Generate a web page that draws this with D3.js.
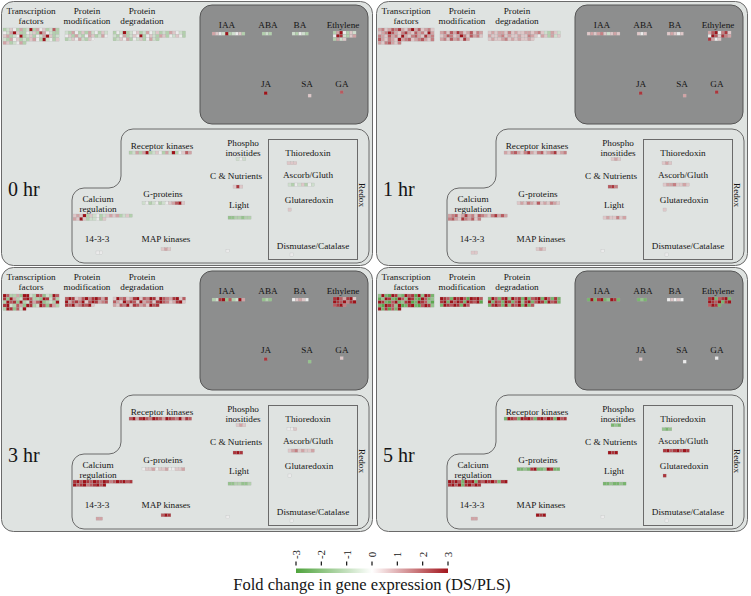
<!DOCTYPE html>
<html><head><meta charset="utf-8">
<script src="https://cdn.jsdelivr.net/npm/d3@7"></script>
<style>
body{margin:0;background:#fff}
svg{display:block}
text{font-family:"Liberation Serif","Times New Roman",serif;fill:#151515}
</style>
</head><body>
<svg id="c" width="751" height="596"></svg>
<script>
// ---------------- data ----------------
const panelLabels = ["0 hr", "1 hr", "3 hr", "5 hr"];
const blockNames = ["Transcription factors","Protein modification","Protein degradation","IAA","ABA","BA","Ethylene","JA","SA","GA",
  "Receptor kinases","Phospho inositides","C & Nutrients","Light","Misc","G-proteins","Calcium regulation","14-3-3","MAP kinases",
  "Thioredoxin","Ascorb/Gluth","Glutaredoxin","Dismutase/Catalase"];
// fold-change codes per gene: a..m = -3 .. +3 in steps of 0.5 (g = 0)
const codeLevels = "abcdefghijklm";
const hr0 = [
  "efhgeiefmeighefke"+"gfimheegfheligfee"+"hiefgmefhegfimhef"+"feighefehigemfgeh"+"ihefgie",
  "feigeheifgehf"+"gheifegihefig"+"efhgifehg",
  "egfmefghefigfhefeihgfe"+"fegiefhgmeghfeihegfhge"+"efhgiegfhegife",
  "ihgfmefghe","efe","fegfe","eimgehf"+"gmlfehi"+"eifh","m","h","k",
  "efieimefhgeifmeghki","fgf","hlh","ddeedee","g","fgefgefghikmh",
  "hihmehfgefhihiefhe"+"ihmheffgeh","gg","hih","hhh","fegfhegf","h","g"
];
const hr1 = [
  "ijhikjlihjmikhijh"+"hijmkihjlihkijhmi"+"jihkijhmihjkihlij"+"kihjihmijkhijkihj"+"ihjkihj",
  "ijhkiljhikhji"+"hikjhimjhkijh"+"ijhkijhli",
  "hihiihjhihhiihijhfeihf"+"ihhijhihhihhjihgiheifh"+"hihhijhihihhih",
  "hihijhfhih","hgh","hihgh","ikmgjlh"+"gmkhlji"+"ligh","l","i","l",
  "ihjkihjlihjkhijlhij","hih","klj","hihhjhi","g","hihjihkhihjih",
  "ijkhilijhkjihjliki"+"jkihljikhj","hh","hih","hih","hiijhhih","h","g"
];
const hr3 = [
  "mkeeidmmfelkdfemk"+"ldmieflmkeedmlfke"+"emkldmeflikmdefem"+"lmfekidmlefmkdlie"+"emldkfm",
  "kmlhikmjlmkil"+"mikljmhkmlijk"+"lkmijlkmh",
  "hmjkhilmhkjmlhmkjilmhk"+"kihmjlkhmijkhlmkjhilmh"+"ihkjmhlkijhmkl",
  "eflmdkefmi","ded","ghihg","lmkilmh"+"mlkmjlm"+"klmj","l","d","h",
  "kmilmkjmlkimlkjmilk","hih","lml","ddeedde","g","ghhighhigghhi",
  "lmkmlkmlkmljkmlmkl"+"mklmjklmkm","ii","kml","ggh","hijhihhi","g","g"
];
const hr5 = [
  "dmcbmldcmklbmdmlc"+"bdmlcbmkdmlcbmkcd"+"mlcbkmcdlmbcmlkdb"+"cbmlkdmbclmcbkmld"+"mclbkcm",
  "mlkcmlmkbmlmk"+"lmcmkmlcmlkmb"+"cmlkmlcmk",
  "cmkclmdmklcmcklmcmkclc"+"mclkcmlckmdlmckmlcmklc"+"clmkcmdlkmcmck",
  "cmclmcdmlc","cdc","ghghg","lmcklmc"+"mlkmclm"+"kmlc","h","g","g",
  "cmlkcmlmkclmkmlcmkl","cdc","mlm","ccdccdc","g","ccdclmccdmlcc",
  "mlmkcmlmclkmlmkclm"+"lmkmclmkml","ii","mlm","dcd","lmklmkml","l","g"
];
const panelValues = [hr0, hr1, hr3, hr5];
const legendTicks = [-3, -2, -1, 0, 1, 2, 3];
const legendTitle = "Fold change in gene expression (DS/PLS)";

// ---------------- layout ----------------
const W = 751, H = 596;
const panelOffsets = [[0,0],[375,0],[0,266],[375,266]];
const cell = 3.3;
const blockLayout = [
  {x:3,y:28,cols:17},{x:65,y:31,cols:13},{x:113,y:31,cols:22},
  {x:212,y:32,cols:10},{x:262,y:32,cols:3},{x:292,y:32,cols:5},{x:333,y:31,cols:7},
  {x:264,y:91.5,cols:1},{x:308,y:94,cols:1},{x:340,y:90.5,cols:1},
  {x:129,y:151,cols:19},{x:236,y:157.5,cols:3},{x:233,y:185,cols:3},{x:228,y:216,cols:7},
  {x:226,y:249.5,cols:1},{x:142,y:201.5,cols:13},{x:73,y:214,cols:18},{x:96,y:251,cols:2},
  {x:161,y:247.5,cols:3},{x:287,y:161.5,cols:3},{x:288,y:183,cols:8},{x:288,y:208,cols:1},{x:290,y:253,cols:1}
];
const textLayout = [
  ["Transcription",31,13.5],["factors",31,24],
  ["Protein",87,13.5],["modification",87,24],
  ["Protein",142,13.5],["degradation",142,24],
  ["IAA",227,28],["ABA",268,28],["BA",300,28],["Ethylene",343,28],
  ["JA",266,87],["SA",307,87],["GA",342,87],
  ["Receptor kinases",162,148.5],["Phospho",243,145.5],["inositides",243,156],
  ["C & Nutrients",236,179],["Light",239,207.5],["G-proteins",163,197],
  ["Calcium",98,201.5],["regulation",98,211.5],["14-3-3",97,242],["MAP kinases",166,242],
  ["Thioredoxin",308,156],["Ascorb/Gluth",308,178],["Glutaredoxin",309,203],["Dismutase/Catalase",313,249]
];

const color = d3.scaleLinear().domain([-3,0,3]).range(["#3f9a2e","#ebebeb","#9e1219"]).interpolate(d3.interpolateRgb).clamp(true);
const decode = s => Array.from(s).map(ch => (codeLevels.indexOf(ch) - 6) / 2);

const svg = d3.select("#c");
svg.append("rect").attr("width",W).attr("height",H).attr("fill","#fff");

panelValues.forEach((vals, p) => {
  const [dx, dy] = panelOffsets[p];
  const g = svg.append("g").attr("transform",`translate(${dx},${dy})`);
  g.append("rect").attr("x",1.5).attr("y",1.5).attr("width",371).attr("height",264).attr("rx",12)
    .attr("fill","#dfe3e1").attr("stroke","#6a6a6a").attr("stroke-width",1);
  g.append("rect").attr("x",200).attr("y",5).attr("width",168).attr("height",119).attr("rx",12)
    .attr("fill","#8d8e8e").attr("stroke","#555").attr("stroke-width",1);
  const r = 12;
  g.append("path").attr("d",
    `M121,${129+r} A${r},${r} 0 0 1 ${121+r},129 H${369-r} A${r},${r} 0 0 1 369,${129+r} V${263-r} A${r},${r} 0 0 1 ${369-r},263 H${72+r} A${r},${r} 0 0 1 72,${263-r} V${188+r} A${r},${r} 0 0 1 ${72+r},188 H${121-r} A${r},${r} 0 0 0 121,${188-r} Z`)
    .attr("fill","none").attr("stroke","#6a6a6a").attr("stroke-width",1);
  g.append("rect").attr("x",268.5).attr("y",139.5).attr("width",89).attr("height",120)
    .attr("fill","none").attr("stroke","#6a6a6a").attr("stroke-width",1);

  g.selectAll("text.lab").data(textLayout).join("text").attr("class","lab")
    .attr("x",d=>d[1]).attr("y",d=>d[2]).attr("text-anchor","middle").attr("font-size",9.2).text(d=>d[0]);
  g.append("text").attr("transform","translate(362,195) rotate(90)").attr("text-anchor","middle")
    .attr("dominant-baseline","central").attr("font-size",9.2).text("Redox");
  g.append("text").attr("x",8).attr("y",196).attr("font-size",20).text(panelLabels[p]);

  vals.forEach((s, b) => {
    const L = blockLayout[b];
    const v = decode(s);
    const xs = d3.scaleLinear().domain([0, L.cols]).range([L.x, L.x + L.cols*cell]);
    const rows = Math.ceil(v.length / L.cols);
    const ys = d3.scaleLinear().domain([0, rows]).range([L.y, L.y + rows*cell]);
    g.append("g").attr("class","block").attr("data-name",blockNames[b])
      .selectAll("rect").data(v).join("rect")
      .attr("x",(d,i)=>xs(i % L.cols)).attr("y",(d,i)=>ys(Math.floor(i / L.cols)))
      .attr("width",cell).attr("height",cell)
      .attr("fill",d=>color(d)).attr("stroke","#a8a8a8").attr("stroke-width",0.2);
  });
});

// ---------------- legend ----------------
const lx = d3.scaleLinear().domain([-3,3]).range([296,448]);
const grad = svg.append("defs").append("linearGradient").attr("id","lg");
const legendColor = d3.scaleLinear().domain([-3,0,3]).range(["#4fa33c","#ffffff","#a3161d"]);
d3.range(-3,3.01,0.5).forEach(v => grad.append("stop").attr("offset",(v+3)/6).attr("stop-color",legendColor(v)));
svg.append("rect").attr("x",lx(-3)).attr("y",568.5).attr("width",lx(3)-lx(-3)).attr("height",4.5).attr("fill","url(#lg)");
const lg = svg.append("g");
lg.selectAll("line").data(legendTicks).join("line")
  .attr("x1",d=>lx(d)).attr("x2",d=>lx(d)).attr("y1",561.5).attr("y2",565.5).attr("stroke","#111").attr("stroke-width",1.2);
lg.selectAll("text").data(legendTicks).join("text")
  .attr("transform",d=>`translate(${lx(d)},554.5) rotate(-90)`).attr("text-anchor","middle")
  .attr("dominant-baseline","central").attr("font-size",11).text(d=>d);
svg.append("text").attr("x",372).attr("y",590).attr("text-anchor","middle").attr("font-size",16.5).text(legendTitle);
</script>
</body></html>
